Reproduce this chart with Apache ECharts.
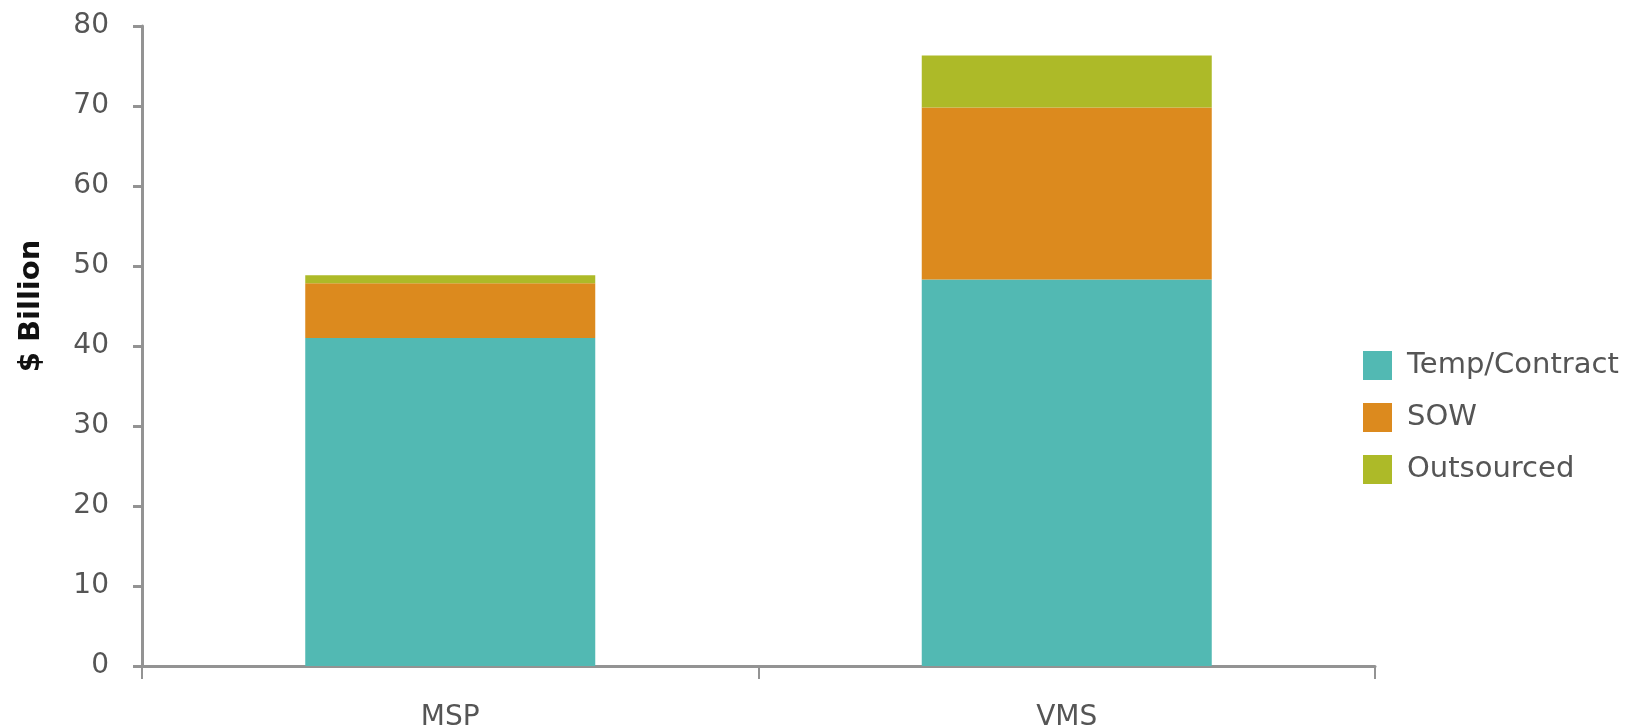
<!DOCTYPE html>
<html>
<head>
<meta charset="utf-8">
<script src="https://cdn.jsdelivr.net/npm/echarts@6/dist/echarts.min.js"></script>
<style>
  html, body { margin: 0; padding: 0; background: #fff; }
  #chart { width: 1629px; height: 728px; }
</style>
</head>
<body>
<div id="chart"></div>
<script>
// categories and stacked values ($ Billion)
const categories = ["MSP", "VMS"];
const tempContract = [41.0, 48.3];
const sow = [6.85, 21.5];
const outsourced = [1.0, 6.5];

const axisGrey = "#939393";
const labelColor = "#555";
const font = "DejaVu Sans";

const chart = echarts.init(document.getElementById("chart"));

const option = {
  animation: false,
  color: ["#52b9b3", "#dc8a1e", "#adba28"],
  grid: {
    left: 142,
    top: 26,
    right: 254,
    bottom: 62,
    outerBoundsMode: "none",
  },
  legend: {
    orient: "vertical",
    left: 1358,
    top: 346,
    itemWidth: 29,
    itemHeight: 29,
    itemGap: 23,
    icon: "rect",
    data: ["Temp/Contract", "SOW", "Outsourced"],
    textStyle: {
      fontFamily: font,
      fontSize: 29,
      color: labelColor,
      padding: [0, 0, 0, 10],
    },
  },
  xAxis: {
    type: "category",
    data: categories,
    axisLine: { lineStyle: { color: axisGrey, width: 3 } },
    axisTick: { show: true, length: 13, lineStyle: { color: axisGrey, width: 2 } },
    axisLabel: {
      margin: 38,
      fontFamily: font,
      fontSize: 28,
      color: labelColor,
    },
  },
  yAxis: {
    type: "value",
    min: 0,
    max: 80,
    interval: 10,
    splitLine: { show: false },
    axisLine: { show: true, lineStyle: { color: axisGrey, width: 3 } },
    axisTick: { show: true, length: 9, lineStyle: { color: axisGrey, width: 3 } },
    axisLabel: {
      margin: 33,
      fontFamily: font,
      fontSize: 28,
      color: labelColor,
    },
  },
  graphic: [
    {
      type: "text",
      x: 31,
      y: 306,
      rotation: Math.PI / 2,
      style: {
        text: "$ Billion",
        fontFamily: font,
        fontSize: 29,
        fontWeight: "bold",
        fill: "#111",
        align: "center",
        verticalAlign: "middle",
      },
    },
  ],
  series: [
    { name: "Temp/Contract", type: "bar", stack: "total", barWidth: 290, data: tempContract },
    { name: "SOW", type: "bar", stack: "total", barWidth: 290, data: sow },
    { name: "Outsourced", type: "bar", stack: "total", barWidth: 290, data: outsourced },
  ],
};

chart.setOption(option);
</script>
</body>
</html>
